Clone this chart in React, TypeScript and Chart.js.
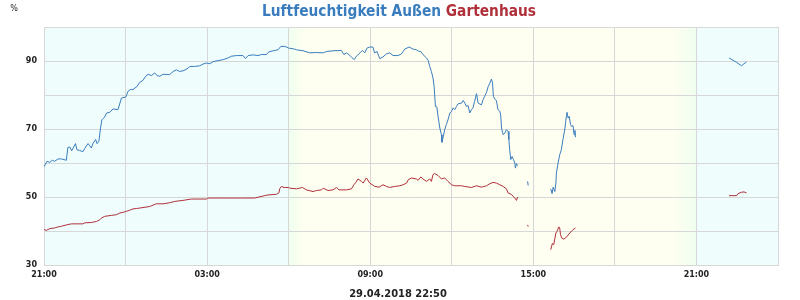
import React, { useEffect, useRef } from "react";
import { Chart, registerables } from "chart.js";

Chart.register(...registerables);

// hours since 21:00 of the previous day
const blueTimes = [0, 0.11, 0.21, 0.31, 0.39, 0.52, 0.64, 0.82, 0.88, 0.95, 1.02, 1.07, 1.16, 1.21, 1.31, 1.43, 1.5, 1.62, 1.68, 1.74, 1.8, 1.9, 1.95, 2.02, 2.08, 2.13, 2.23, 2.3, 2.42, 2.54, 2.72, 2.85, 3.01, 3.09, 3.18, 3.27, 3.42, 3.52, 3.64, 3.74, 3.83, 3.95, 4.07, 4.16, 4.26, 4.38, 4.62, 4.75, 4.87, 4.99, 5.15, 5.3, 5.36, 5.54, 5.73, 5.85, 5.98, 6.1, 6.22, 6.4, 6.59, 6.77, 6.89, 7.08, 7.32, 7.41, 7.51, 7.69, 7.87, 8.0, 8.18, 8.27, 8.43, 8.61, 8.71, 8.86, 9.0, 9.22, 9.29, 9.53, 9.78, 10.02, 10.27, 10.39, 10.63, 10.94, 11.03, 11.13, 11.25, 11.41, 11.49, 11.64, 11.71, 11.8, 11.88, 11.98, 12.1, 12.16, 12.25, 12.35, 12.47, 12.6, 12.72, 12.84, 13.02, 13.15, 13.27, 13.43, 13.58, 13.7, 13.8, 13.86, 13.94, 14.07, 14.13, 14.19, 14.25, 14.31, 14.35, 14.4, 14.45, 14.5, 14.56, 14.62, 14.64, 14.69, 14.74, 14.8, 14.86, 14.93, 14.99, 15.05, 15.11, 15.17, 15.23, 15.36, 15.42, 15.48, 15.54, 15.6, 15.66, 15.72, 15.78, 15.84, 15.91, 15.97, 16.09, 16.15, 16.21, 16.28, 16.34, 16.4, 16.46, 16.5, 16.53, 16.58, 16.64, 16.7, 16.77, 16.8, 16.83, 16.89, 16.95, 17.01, 17.07, 17.1, 17.13, 17.17, 17.22, 17.27, 17.32, 17.34, 17.38, 17.42, 17.6, 17.79, 17.81, 18.2, 18.64, 18.69, 18.73, 18.79, 18.83, 18.85, 18.91, 18.97, 19.03, 19.09, 19.16, 19.19, 19.22, 19.24, 19.28, 19.32, 19.37, 19.4, 19.46, 19.5, 19.53, 19.55, 22.0, 25.2, 25.35, 25.48, 25.6, 25.66, 25.75, 25.84];
const blueValues = [58.9, 60.5, 60.2, 60.8, 60.5, 61.2, 61.2, 60.8, 64.6, 64.7, 63.6, 64.4, 65.7, 63.9, 63.7, 63.3, 64.3, 65.7, 65.1, 64.4, 65.7, 66.9, 65.7, 66.4, 70.3, 72.7, 73.5, 74.7, 74.9, 75.9, 75.7, 79.1, 79.4, 81.1, 81.6, 81.6, 82.5, 83.7, 84.3, 85.5, 86.1, 85.7, 86.5, 85.7, 85.5, 86.1, 86.0, 86.9, 87.4, 86.9, 87.2, 87.9, 88.4, 88.4, 88.6, 89.1, 89.4, 89.2, 89.8, 90.1, 90.4, 90.9, 91.4, 91.6, 91.6, 90.7, 91.6, 91.8, 91.6, 91.9, 91.9, 92.7, 93.0, 93.3, 94.3, 94.3, 93.8, 93.5, 93.3, 93.0, 92.4, 92.5, 92.4, 92.8, 93.0, 93.1, 91.9, 92.4, 91.6, 90.4, 91.4, 92.5, 93.1, 92.4, 93.8, 94.1, 94.1, 92.4, 92.8, 90.7, 91.2, 92.1, 92.4, 91.6, 91.6, 92.1, 93.5, 94.1, 93.5, 93.3, 92.8, 92.8, 91.9, 90.9, 90.2, 88.4, 86.9, 85.0, 82.5, 76.6, 76.5, 73.5, 70.3, 68.3, 66.1, 67.8, 69.8, 71.3, 72.7, 74.7, 75.2, 76.2, 75.7, 76.6, 77.4, 77.6, 78.4, 77.6, 76.6, 76.9, 74.7, 75.7, 76.2, 78.1, 80.4, 77.6, 77.1, 78.6, 79.6, 80.8, 82.5, 83.5, 84.7, 83.5, 79.6, 78.8, 78.4, 75.7, 75.2, 73.9, 70.3, 68.3, 68.8, 69.8, 69.3, 66.9, 63.9, 61.0, 61.9, 61.0, 60.0, 58.5, 59.8, 59.2, null, 54.6, 53.4, null, 52.4, 51.0, 52.9, 51.6, 54.1, 57.1, 60.0, 62.4, 63.9, 66.9, 70.0, 72.2, 73.9, 74.9, 73.2, 73.7, 71.3, 70.8, 71.0, 68.3, 69.6, 67.6, null, 90.9, 90.2, 89.6, 88.9, 88.6, 89.2, 89.7];

const redTimes = [0, 0.09, 0.21, 0.39, 0.52, 0.64, 0.88, 1.01, 1.43, 1.5, 1.74, 1.93, 2.05, 2.11, 2.23, 2.48, 2.67, 2.79, 2.91, 3.03, 3.15, 3.27, 3.4, 3.64, 3.89, 4.13, 4.38, 4.62, 4.81, 5.11, 5.42, 5.98, 6.03, 6.4, 7.26, 7.75, 8.12, 8.24, 8.55, 8.64, 8.67, 8.73, 8.83, 9.0, 9.04, 9.29, 9.51, 9.65, 9.9, 10.02, 10.21, 10.27, 10.45, 10.63, 10.76, 10.85, 11.13, 11.31, 11.4, 11.47, 11.55, 11.68, 11.74, 11.86, 11.98, 12.17, 12.33, 12.47, 12.6, 12.72, 12.9, 13.09, 13.21, 13.34, 13.4, 13.52, 13.7, 13.76, 13.86, 13.94, 14.07, 14.19, 14.25, 14.31, 14.37, 14.5, 14.62, 14.74, 14.86, 14.99, 15.11, 15.36, 15.48, 15.72, 15.91, 16.09, 16.28, 16.4, 16.52, 16.64, 16.77, 16.89, 17.01, 17.07, 17.2, 17.32, 17.38, 17.42, 17.6, 17.79, 17.81, 18.2, 18.64, 18.7, 18.75, 18.83, 18.87, 18.94, 18.97, 19.0, 19.05, 19.12, 19.22, 19.34, 19.46, 19.55, 22.0, 25.2, 25.48, 25.53, 25.66, 25.75, 25.84];
const redValues = [40.4, 40.2, 40.7, 40.9, 41.2, 41.4, 41.9, 42.1, 42.1, 42.4, 42.5, 42.8, 43.3, 43.8, 44.3, 44.6, 44.8, 45.3, 45.5, 45.8, 46.1, 46.5, 46.6, 46.9, 47.2, 48.0, 48.0, 48.3, 48.7, 49.0, 49.4, 49.4, 49.7, 49.7, 49.7, 49.7, 50.4, 50.6, 50.8, 51.2, 52.4, 53.1, 52.8, 52.8, 52.6, 52.4, 52.8, 52.1, 51.6, 51.9, 52.1, 52.6, 51.9, 52.1, 52.8, 52.1, 52.1, 52.4, 53.6, 54.3, 55.3, 54.6, 54.1, 55.6, 54.1, 53.1, 52.9, 53.6, 53.1, 52.8, 53.1, 53.3, 53.6, 54.1, 55.1, 55.6, 55.3, 54.9, 55.9, 55.3, 54.6, 55.3, 54.6, 56.6, 56.9, 56.3, 55.3, 55.6, 54.6, 53.6, 53.3, 53.3, 53.1, 52.8, 53.3, 52.9, 53.3, 53.9, 54.3, 54.1, 53.6, 53.1, 52.4, 51.2, 50.7, 49.7, 49.0, 50.0, null, 41.8, 41.3, null, 34.5, 36.3, 36.0, 39.4, 39.9, 41.2, 40.9, 38.9, 37.9, 37.6, 38.2, 39.4, 40.4, 40.9, null, 50.4, 50.4, 51.0, 51.4, 51.5, 51.2];

const xTickLabels = ["21:00", "03:00", "09:00", "15:00", "21:00"];
const yTickLabels = ["30", "50", "70", "90"];
const titleBlue = "Luftfeuchtigkeit Außen";
const titleRed = "Gartenhaus";
const dateLabel = "29.04.2018 22:50";
const unitLabel = "%";

// daylight bands (hours since 21:00)
const dawnStart = 9;
const dawnEnd = 9.6;
const duskStart = 23.1;
const duskEnd = 24;

const BLUE = "#3a7dbe";
const RED = "#b0303a";
const NIGHT = "#effdfd";
const TWILIGHT = "#f0fff0";
const DAY = "#fefff0";
const GRID = "#d7d7d7";
const TEXT = "#222222";

const overlayPlugin = {
  id: "overlay",
  beforeDraw(chart: any) {
    const { ctx, chartArea, scales } = chart;
    const xs = scales.x;
    const w = chartArea.right - chartArea.left;
    const st = (t: number) => Math.min(1, Math.max(0, (xs.getPixelForValue(t) - chartArea.left) / w));
    const g = ctx.createLinearGradient(chartArea.left, 0, chartArea.right, 0);
    g.addColorStop(0, NIGHT);
    g.addColorStop(st(dawnStart), NIGHT);
    g.addColorStop(st(dawnStart + 0.03), TWILIGHT);
    g.addColorStop(st(dawnEnd), DAY);
    g.addColorStop(st(duskStart), DAY);
    g.addColorStop(st(duskEnd - 0.03), TWILIGHT);
    g.addColorStop(st(duskEnd), NIGHT);
    g.addColorStop(1, NIGHT);
    ctx.save();
    ctx.fillStyle = g;
    ctx.fillRect(chartArea.left, chartArea.top, w, chartArea.bottom - chartArea.top);
    ctx.restore();
  },
  afterDraw(chart: any) {
    const { ctx } = chart;
    ctx.save();
    ctx.textBaseline = "alphabetic";
    ctx.font = "bold 15.3px 'DejaVu Sans Condensed', 'DejaVu Sans'";
    const a = titleBlue + " ";
    const wa = ctx.measureText(a).width;
    const wb = ctx.measureText(titleRed).width;
    const x0 = 399 - (wa + wb) / 2;
    ctx.textAlign = "left";
    ctx.fillStyle = BLUE;
    ctx.fillText(a, x0, 16);
    ctx.fillStyle = RED;
    ctx.fillText(titleRed, x0 + wa, 16);

    ctx.fillStyle = TEXT;
    ctx.font = "bold 11px 'DejaVu Sans Condensed', 'DejaVu Sans'";
    ctx.textAlign = "center";
    ctx.fillText(dateLabel, 398, 297);

    ctx.font = "8px 'DejaVu Sans'";
    ctx.fillText(unitLabel, 14, 11);
    ctx.restore();
  },
};

export default function App() {
  const ref = useRef<HTMLCanvasElement | null>(null);
  useEffect(() => {
    document.body.style.margin = "0";
    if (!ref.current) return;
    const blueData = blueTimes.map((t, i) => ({ x: t, y: blueValues[i] }));
    const redData = redTimes.map((t, i) => ({ x: t, y: redValues[i] }));
    const chart = new Chart(ref.current, {
      type: "line",
      data: {
        datasets: [
          { label: titleBlue, data: blueData as any, borderColor: BLUE, borderWidth: 1, pointRadius: 0, tension: 0, spanGaps: false, fill: false },
          { label: titleRed, data: redData as any, borderColor: RED, borderWidth: 1, pointRadius: 0, tension: 0, spanGaps: false, fill: false },
        ],
      },
      options: {
        animation: false,
        responsive: false,
        maintainAspectRatio: false,
        layout: { padding: { left: 0, right: 22, top: 27, bottom: 0 } },
        plugins: { legend: { display: false }, title: { display: false }, tooltip: { enabled: false } },
        scales: {
          x: {
            type: "linear",
            min: 0,
            max: 27,
            grid: { color: GRID, lineWidth: 1, drawTicks: false },
            border: { color: GRID },
            ticks: {
              stepSize: 3,
              autoSkip: false,
              maxRotation: 0,
              padding: 5,
              color: TEXT,
              font: { family: "'DejaVu Sans'", size: 8, weight: "bold" },
              callback: (v: any) => {
                const n = Number(v);
                return n % 6 === 0 ? xTickLabels[n / 6] ?? "" : "";
              },
            },
            afterFit: (s: any) => { s.height = 35; },
          },
          y: {
            min: 30,
            max: 100,
            grid: { color: GRID, lineWidth: 1, drawTicks: false },
            border: { color: GRID },
            ticks: {
              stepSize: 10,
              autoSkip: false,
              padding: 7,
              color: TEXT,
              font: { family: "'DejaVu Sans'", size: 8, weight: "bold" },
              callback: (v: any) => {
                const s = String(v);
                return yTickLabels.includes(s) ? s : "";
              },
            },
            afterFit: (s: any) => { s.width = 44; },
          },
        },
      },
      plugins: [overlayPlugin],
    });
    return () => chart.destroy();
  }, []);
  return (
    <div style={{ width: 800, height: 300 }}>
      <canvas ref={ref} width={800} height={300} />
    </div>
  );
}
